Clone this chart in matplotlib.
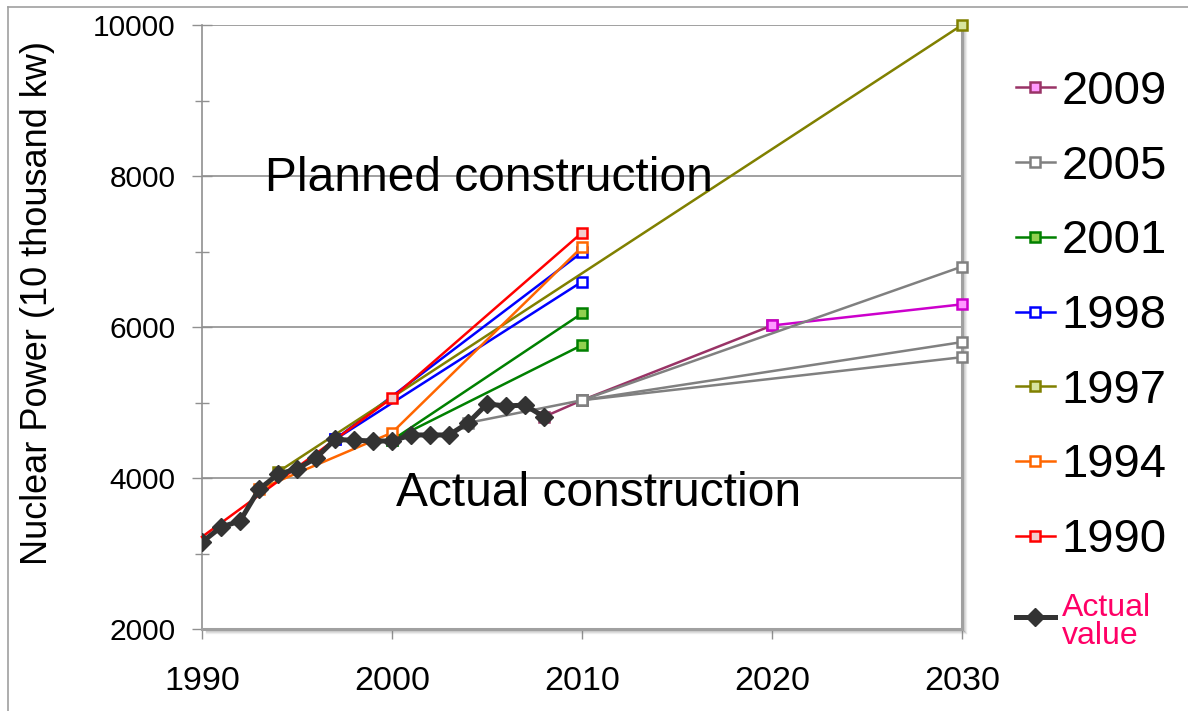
import numpy as np
import matplotlib.pyplot as plt
from matplotlib.lines import Line2D

plt.rcParams['font.family'] = ['Liberation Sans', 'DejaVu Sans']

# actual installed capacity (10 thousand kW)
years_actual = [1990, 1991, 1992, 1993, 1994, 1995, 1996, 1997, 1998, 1999,
                2000, 2001, 2002, 2003, 2004, 2005, 2006, 2007, 2008]
actual = [3150, 3350, 3430, 3850, 4050, 4120, 4265, 4510, 4500, 4490,
          4490, 4570, 4570, 4570, 4730, 4980, 4955, 4965, 4810]

# planned values by plan year
plan_1990_x = [1990, 2000, 2010]
plan_1990_y = [3220, 5060, 7250]
plan_1994_x = [1993, 2000, 2010]
plan_1994_y = [3850, 4600, 7060]
plan_1997_x = [1994, 2030]
plan_1997_y = [4080, 10000]
plan_1998_x = [1997, 2010]
plan_1998_hi = [4510, 6990]
plan_1998_lo = [4510, 6600]
plan_2001_x = [2000, 2010]
plan_2001_hi = [4500, 6180]
plan_2001_lo = [4500, 5760]
plan_2005_x = [2004, 2010]
plan_2005_y = [4730, 5030]
plan_2005_far_x = [2010, 2030]
plan_2005_far = [[5030, 6800], [5030, 5800], [5030, 5600]]
plan_2009_x = [2008, 2010, 2020]
plan_2009_y = [4810, 5030, 6020]
plan_2009_far_x = [2020, 2030]
plan_2009_far_y = [6020, 6300]

fig = plt.figure(figsize=(11.88, 7.11), dpi=100)
ax = fig.add_axes([202 / 1188, 1 - 629 / 711, 760 / 1188, 604 / 711])

ms = 7.5
mew = 1.8
lw = 1.8

def sq(x, y, color, fill, label=None, z=3, every=None):
    return ax.plot(x, y, color=color, lw=lw, marker='s', ms=ms, mew=mew,
                   mec=color, mfc=fill, label=label, zorder=z, clip_on=False,
                   markevery=every)[0]

h2009 = sq(plan_2009_x, plan_2009_y, '#993366', '#ff99ff', '2009')
sq(plan_2009_far_x, plan_2009_far_y, '#cc00cc', '#ff99ff')
h2005 = sq(plan_2005_x, plan_2005_y, '#808080', 'white', '2005')
for far in plan_2005_far:
    sq(plan_2005_far_x, far, '#808080', 'white')
h2001 = sq(plan_2001_x, plan_2001_hi, '#008000', '#92d050', '2001')
sq(plan_2001_x, plan_2001_lo, '#008000', '#92d050')
h1998 = sq(plan_1998_x, plan_1998_hi, '#0000ff', 'white', '1998')
sq(plan_1998_x, plan_1998_lo, '#0000ff', 'white')
h1997 = sq(plan_1997_x, plan_1997_y, '#808000', '#d7e4a0', '1997')
h1994 = sq(plan_1994_x, plan_1994_y, '#ff6600', 'white', '1994')
h1990 = sq(plan_1990_x, plan_1990_y, '#ff0000', '#f2cccc', '1990', every=[1, 2])
hact, = ax.plot(years_actual, actual, color='#333333', lw=3.6, marker='D',
                ms=9.5, mfc='#333333', mec='#333333', label='Actual\nvalue', zorder=5)

ax.set_xlim(1990, 2030)
ax.set_ylim(2000, 10000)
ax.set_xticks([1990, 2000, 2010, 2020, 2030])
ax.set_yticks([2000, 4000, 6000, 8000, 10000])
ax.set_yticks([3000, 5000, 7000, 9000], minor=True)
ax.yaxis.grid(True, color='#909090', lw=1.2, zorder=0)
ax.set_axisbelow(True)

ax.spines['top'].set_visible(False)
ax.spines['left'].set_color('#909090')
ax.spines['left'].set_linewidth(1.2)
ax.spines['right'].set_color('#a0a0a0')
ax.spines['right'].set_linewidth(2.2)
ax.spines['bottom'].set_color('#a0a0a0')
ax.spines['bottom'].set_linewidth(2.2)

# soft shadow along the right and bottom edge of the plot area
for k, a in enumerate([0.35, 0.2, 0.1]):
    d = (k + 2) / 760
    e = (k + 2) / 604
    ax.plot([1 + d, 1 + d], [0 - e, 1], transform=ax.transAxes, color='gray',
            alpha=a, lw=1, clip_on=False, zorder=1)
    ax.plot([0.005, 1 + d], [0 - e, 0 - e], transform=ax.transAxes, color='gray',
            alpha=a, lw=1, clip_on=False, zorder=1)

ax.tick_params(axis='y', which='major', direction='inout', length=14, width=1,
               color='#909090', labelsize=21.5, pad=12)
ax.tick_params(axis='y', which='minor', direction='inout', length=10, width=1,
               color='#909090')
ax.tick_params(axis='x', direction='out', length=7, width=1, color='#909090',
               labelsize=24.5, pad=20)

ax.text(1993.3, 7800, 'Planned construction', fontsize=34.5, ha='left', va='baseline')
ax.text(2000.2, 3630, 'Actual construction', fontsize=34.5, ha='left', va='baseline')

fig.text(38 / 1188, 1 - 303 / 711, 'Nuclear Power (10 thousand kw)', fontsize=26,
         rotation=90, ha='center', va='center')

leg = fig.legend(handles=[h2009, h2005, h2001, h1998, h1997, h1994, h1990, hact],
                 loc='upper left', bbox_to_anchor=(1016 / 1188, 1 - 70 / 711),
                 frameon=False, fontsize=34, handlelength=0.82, handletextpad=0.15,
                 labelspacing=0.65, borderpad=0, borderaxespad=0)
leg.get_texts()[-1].set_color('#ff0066')
leg.get_texts()[-1].set_fontsize(23)
leg.get_texts()[-1].set_linespacing(0.9)

# thin border round the picture (top and left visible)
fig.add_artist(Line2D([8 / 1188, 1], [1 - 7 / 711, 1 - 7 / 711], color='#a0a0a0', lw=1.2))
fig.add_artist(Line2D([8 / 1188, 8 / 1188], [0, 1 - 7 / 711], color='#a0a0a0', lw=1.2))

fig.savefig('out.png', dpi=100)
